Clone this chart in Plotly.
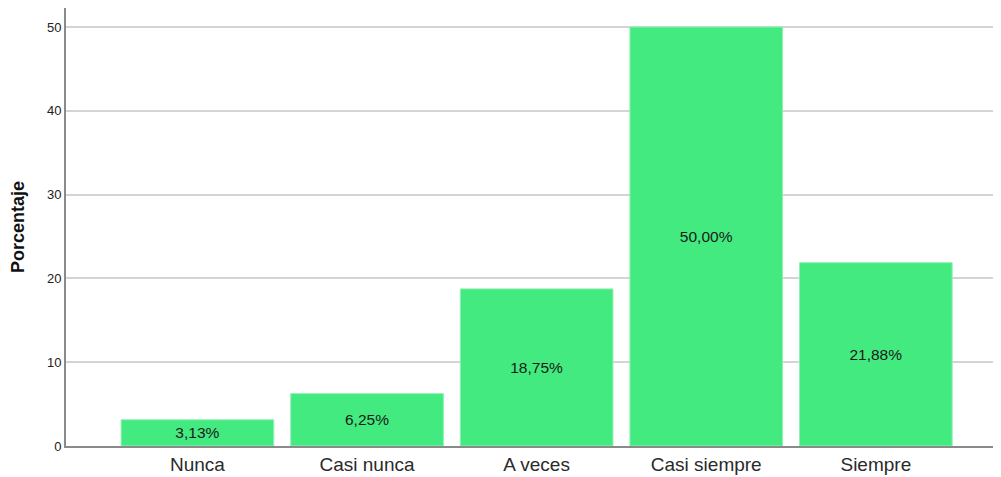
import plotly.graph_objects as go

# frecuencias en porcentaje
categorias = ['Nunca', 'Casi nunca', 'A veces', 'Casi siempre', 'Siempre']
porcentajes = [3.13, 6.25, 18.75, 50.00, 21.88]
etiquetas = ['3,13%', '6,25%', '18,75%', '50,00%', '21,88%']
ticks_y = [0, 10, 20, 30, 40, 50]

fig = go.Figure()
fig.add_trace(go.Bar(
    x=categorias,
    y=porcentajes,
    text=etiquetas,
    textposition='inside',
    insidetextanchor='middle',
    textfont=dict(size=15.5, color='#1a1a1a', family='Liberation Sans, Arial'),
    marker=dict(color='#43EA80', line=dict(color='#8ff0b2', width=1)),
    width=0.9,
))

# la página añade 8px de margen al body, se compensa aquí
fig.update_layout(
    width=993, height=469,
    margin=dict(l=58, r=0, t=0, b=31),
    paper_bgcolor='white', plot_bgcolor='white',
    font=dict(family='Liberation Sans, Arial', color='#222'),
    showlegend=False,
)
fig.update_xaxes(
    range=[-0.775, 4.738],
    showline=True, linecolor='#8a8a8a', linewidth=2,
    showgrid=False, ticks='',
    tickfont=dict(size=19, color='#2a2a2a'),
)
fig.update_yaxes(
    range=[0, 52.27],
    tickvals=ticks_y,
    showline=True, linecolor='#8a8a8a', linewidth=2,
    showgrid=True, gridcolor='#d4d4d4', gridwidth=1.5,
    zeroline=False, ticks='',
    tickfont=dict(size=13, color='#222'),
    title=dict(text='<b>Porcentaje</b>', font=dict(size=18, color='#111'), standoff=24),
)

fig.write_html("out.html")
